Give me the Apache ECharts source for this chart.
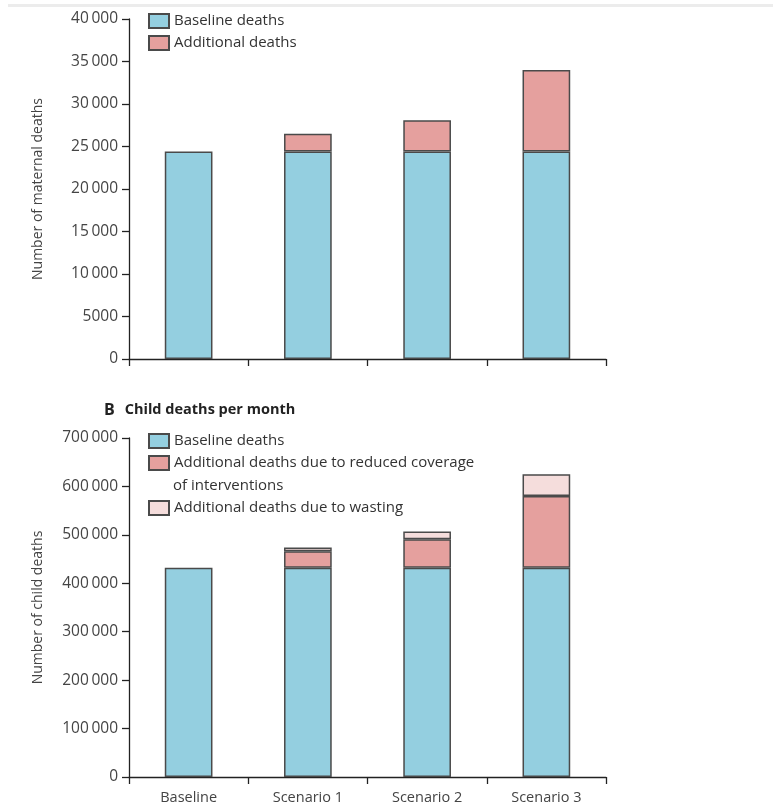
<!DOCTYPE html>
<html>
<head>
<meta charset="utf-8">
<script src="https://cdn.jsdelivr.net/npm/echarts@6/dist/echarts.min.js"></script>
<style>
html,body{margin:0;padding:0;background:#fff;}
#chart{width:773px;height:806px;}
</style>
</head>
<body>
<div id="chart"></div>
<script>
var categories = ['Baseline', 'Scenario 1', 'Scenario 2', 'Scenario 3'];
var maternalBaseline = [24400, 24400, 24400, 24400];
var maternalAdditional = [null, 2100, 3700, 9600];
var childBaseline = [432000, 432000, 432000, 432000];
var childCoverage = [null, 34000, 59000, 148000];
var childWasting = [null, 8000, 16000, 45000];
var maternalTicks = { max: 40000, interval: 5000 };
var childTicks = { max: 700000, interval: 100000 };

var FONT = 'Open Sans';
var BLUE = '#94cfe0';
var RED = '#e5a09e';
var PINK = '#f5dddc';
var EDGE = '#4a4a4a';
var TXT = '#444';

function fmt(v) {
  var s = String(v);
  return v >= 10000 ? s.replace(/\B(?=(\d{3})+(?!\d))/g, '\u2009') : s;
}

function yAxis(gi, t, name) {
  return {
    type: 'value', gridIndex: gi, min: 0, max: t.max, interval: t.interval,
    name: name, nameLocation: 'middle', nameGap: 84,
    nameTextStyle: { fontFamily: FONT, fontSize: 14, color: TXT },
    axisLine: { show: true, lineStyle: { color: '#222', width: 1.3 } },
    axisTick: { show: true, length: 7, lineStyle: { color: '#222', width: 1.3 } },
    axisLabel: { margin: 11, fontFamily: FONT, fontSize: 15.5, color: TXT, formatter: fmt },
    splitLine: { show: false }
  };
}
function xAxis(gi, showLabels) {
  return {
    type: 'category', gridIndex: gi, data: categories,
    axisLine: { show: true, lineStyle: { color: '#222', width: 1.3 } },
    axisTick: { show: true, length: 7, inside: false, lineStyle: { color: '#222', width: 1.3 } },
    axisLabel: { show: showLabels, margin: 13, fontFamily: FONT, fontSize: 14.5, color: TXT }
  };
}
function bar(name, data, xi, stack, color) {
  return {
    type: 'bar', name: name, data: data, xAxisIndex: xi, yAxisIndex: xi, stack: stack,
    barWidth: '40%',
    itemStyle: { color: color, borderColor: EDGE, borderWidth: 1.5 },
    emphasis: { disabled: true },
    animation: false
  };
}
function legend(names, left, top, gap) {
  return {
    data: names, left: left, top: top, orient: 'vertical', icon: 'rect', padding: 0,
    itemWidth: 20, itemHeight: 14, itemGap: gap,
    textStyle: { fontFamily: FONT, fontSize: 15, color: '#333', lineHeight: 14 },
    selectedMode: false
  };
}

var chart = echarts.init(document.getElementById('chart'));
chart.setOption({
  backgroundColor: '#fff',
  animation: false,
  grid: [
    { left: 129, top: 19, width: 477, height: 340 },
    { left: 129, top: 438, width: 477, height: 339 }
  ],
  title: {
    left: 104, top: 401, padding: 0,
    text: '{b|B}  {t|Child deaths per month}',
    textStyle: {
      rich: {
        b: { fontFamily: FONT, fontSize: 16, fontWeight: 'bold', color: '#222' },
        t: { fontFamily: FONT, fontSize: 14.5, fontWeight: 'bold', color: '#222' }
      }
    }
  },
  legend: [
    legend(['Baseline deaths', 'Additional deaths'], 148, 13, 6),
    legend(['Baseline deaths'], 148, 433, 8),
    legend(['Additional deaths due to reduced coverage'], 148, 455, 8),
    legend(['Additional deaths due to wasting'], 148, 500, 8)
  ],
  graphic: [
    { type: 'rect', shape: { x: 8, y: 4, width: 765, height: 3 }, style: { fill: '#ececec' }, silent: true },
    { type: 'text', left: 173, top: 478, style: { text: 'of interventions', fontFamily: FONT, fontSize: 15, fill: '#333' }, silent: true }
  ],
  xAxis: [xAxis(0, false), xAxis(1, true)],
  yAxis: [yAxis(0, maternalTicks, 'Number of maternal deaths'), yAxis(1, childTicks, 'Number of child deaths')],
  series: [
    bar('Baseline deaths', maternalBaseline, 0, 'm', BLUE),
    bar('Additional deaths', maternalAdditional, 0, 'm', RED),
    bar('Baseline deaths', childBaseline, 1, 'c', BLUE),
    bar('Additional deaths due to reduced coverage', childCoverage, 1, 'c', RED),
    bar('Additional deaths due to wasting', childWasting, 1, 'c', PINK)
  ]
});
</script>
</body>
</html>
